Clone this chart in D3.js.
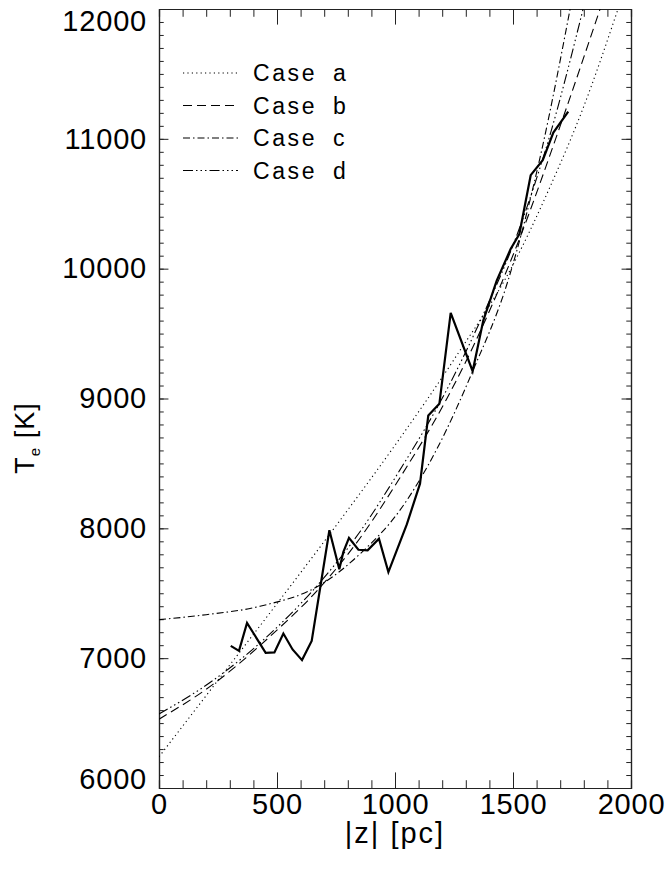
<!DOCTYPE html>
<html lang="en">
<head>
<meta charset="UTF-8">
<title>Te versus |z|</title>
<style>
  body { margin: 0; background: #fff; }
  svg { display: block; font-family: "Liberation Sans", Arial, sans-serif; }
  .tick text { font-size: 29px; fill: #000; letter-spacing: 0.8px; }
  .tick line, .domain { stroke: #222; }
  .legend text { font-size: 23px; letter-spacing: 2.6px; word-spacing: 7px; }
</style>
</head>
<body>
<script src="https://d3js.org/d3.v7.min.js"></script>
<script>
// tick values
const xMajor = [0, 500, 1000, 1500, 2000];
const yMajor = [6000, 7000, 8000, 9000, 10000, 11000, 12000];

// observed Te profile (thick solid line)
const obsZ = [304, 339, 373, 452, 489, 527, 566, 606, 647, 722, 764, 781, 805, 845, 884, 932, 972, 1050, 1106, 1141, 1188, 1236, 1329, 1374, 1431, 1490, 1527, 1575, 1626, 1671, 1734];
const obsT = [7095, 7056, 7272, 7041, 7044, 7190, 7067, 6985, 7133, 7985, 7685, 7817, 7927, 7835, 7831, 7920, 7663, 8030, 8344, 8869, 8959, 9659, 9210, 9600, 9908, 10151, 10267, 10720, 10836, 11048, 11210];

// model curves
const caseAZ = [0, 250, 500, 750, 1000, 1250, 1500, 1657, 1800, 1945];
const caseAT = [6240, 6830, 7420, 8020, 8640, 9300, 10030, 10630, 11250, 12000];
const caseBZ = [0, 230, 460, 690, 850, 1021, 1220, 1367, 1521, 1700, 1869];
const caseBT = [6530, 6800, 7150, 7560, 7920, 8390, 9000, 9540, 10200, 11100, 12000];
const caseCZ = [0, 200, 428, 689, 850, 1021, 1180, 1329, 1479, 1620, 1742];
const caseCT = [7297, 7335, 7400, 7570, 7800, 8140, 8620, 9210, 9908, 10900, 12000];
const caseDZ = [0, 230, 460, 690, 850, 1021, 1220, 1367, 1521, 1660, 1797];
const caseDT = [6570, 6830, 7170, 7600, 7970, 8450, 9070, 9620, 10280, 11050, 12000];

const caseNames = ['Case a', 'Case b', 'Case c', 'Case d'];

const width = 666, height = 875;
const margin = {top: 9, right: 35, bottom: 87, left: 159};
const plotW = width - margin.left - margin.right;
const plotH = height - margin.top - margin.bottom;

const svg = d3.select('body').append('svg')
    .attr('width', width)
    .attr('height', height);

const g = svg.append('g')
    .attr('transform', `translate(${margin.left},${margin.top})`);

const x = d3.scaleLinear().domain([0, 2000]).range([0, plotW]);
const y = d3.scaleLinear().domain([6000, 12000]).range([plotH, 0]);

// ticks point inward, like IDL
const xLen = plotH * 0.02, yLen = plotW * 0.02;
const xMinor = d3.range(0, 2001, 100);
const yMinor = d3.range(6000, 12001, 100);

g.append('g').attr('transform', `translate(0,${plotH})`)
    .call(d3.axisBottom(x).tickValues(xMinor).tickSize(-xLen / 2).tickFormat(''));
g.append('g').attr('transform', `translate(0,${plotH})`)
    .call(d3.axisBottom(x).tickValues(xMajor).tickSize(-xLen).tickSizeOuter(0).tickPadding(5).tickFormat(d3.format('d')));
g.append('g')
    .call(d3.axisTop(x).tickValues(xMinor).tickSize(-xLen / 2).tickFormat(''));
g.append('g')
    .call(d3.axisTop(x).tickValues(xMajor).tickSize(-xLen).tickSizeOuter(0).tickFormat(''));

g.append('g')
    .call(d3.axisLeft(y).tickValues(yMinor).tickSize(-yLen / 2).tickFormat(''));
const yAxis = g.append('g')
    .call(d3.axisLeft(y).tickValues(yMajor).tickSize(-yLen).tickSizeOuter(0).tickPadding(12).tickFormat(d3.format('d')));
g.append('g').attr('transform', `translate(${plotW},0)`)
    .call(d3.axisRight(y).tickValues(yMinor).tickSize(-yLen / 2).tickFormat(''));
g.append('g').attr('transform', `translate(${plotW},0)`)
    .call(d3.axisRight(y).tickValues(yMajor).tickSize(-yLen).tickSizeOuter(0).tickFormat(''));

// end labels are pulled inside the box
yAxis.selectAll('.tick text')
    .attr('dy', d => d === 12000 ? '0.75em' : d === 6000 ? '0.02em' : '0.32em');

g.selectAll('.domain').attr('stroke-width', 1.2);

// curves
g.append('clipPath').attr('id', 'clip')
    .append('rect').attr('width', plotW).attr('height', plotH);

const line = d3.line()
    .x(d => x(d[0]))
    .y(d => y(d[1]))
    .curve(d3.curveMonotoneX);

const models = [
    {z: caseAZ, t: caseAT, dash: '1.2,3.2'},
    {z: caseBZ, t: caseBT, dash: '9,5'},
    {z: caseCZ, t: caseCT, dash: '7,3,1.5,3'},
    {z: caseDZ, t: caseDT, dash: '10,3,1.5,3,1.5,3,1.5,3'}
];

const plotArea = g.append('g').attr('clip-path', 'url(#clip)');

models.forEach(m => {
    plotArea.append('path')
        .datum(m.z.map((z, i) => [z, m.t[i]]))
        .attr('fill', 'none')
        .attr('stroke', '#000')
        .attr('stroke-width', 1.1)
        .attr('stroke-dasharray', m.dash)
        .attr('d', line);
});

plotArea.append('path')
    .datum(obsZ.map((z, i) => [z, obsT[i]]))
    .attr('fill', 'none')
    .attr('stroke', '#000')
    .attr('stroke-width', 2.2)
    .attr('stroke-linejoin', 'miter')
    .attr('d', d3.line().x(d => x(d[0])).y(d => y(d[1])));

// legend
const legend = svg.append('g').attr('class', 'legend');
caseNames.forEach((name, i) => {
    const ly = 73 + i * 32.5;
    legend.append('line')
        .attr('x1', 183).attr('x2', 238)
        .attr('y1', ly).attr('y2', ly)
        .attr('stroke', '#000')
        .attr('stroke-width', 1.1)
        .attr('stroke-dasharray', models[i].dash);
    legend.append('text')
        .attr('x', 253).attr('y', ly)
        .attr('dy', '0.36em')
        .text(name);
});

// axis titles
svg.append('text')
    .attr('x', margin.left + plotW / 2)
    .attr('y', 843)
    .attr('text-anchor', 'middle')
    .style('font-size', '29px')
    .style('letter-spacing', '2px')
    .text('|z|  [pc]');

const yTitle = svg.append('text')
    .attr('transform', 'translate(34,438) rotate(-90)')
    .attr('text-anchor', 'middle')
    .style('font-size', '27px')
    .style('letter-spacing', '1px');
yTitle.append('tspan').text('T');
yTitle.append('tspan').attr('dy', 6).style('font-size', '15px').text('e');
yTitle.append('tspan').attr('dy', -6).text(' [K]');
</script>
</body>
</html>
